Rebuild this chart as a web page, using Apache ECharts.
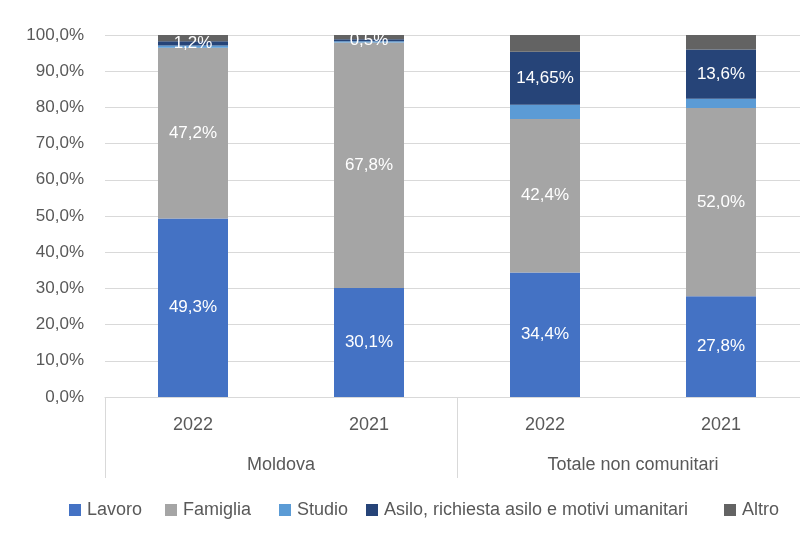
<!DOCTYPE html>
<html>
<head>
<meta charset="utf-8">
<script src="https://cdn.jsdelivr.net/npm/echarts@6/dist/echarts.min.js"></script>
<style>
  html, body { margin: 0; padding: 0; background: #fff; }
  #chart { width: 800px; height: 536px; }
</style>
</head>
<body>
<div id="chart"></div>
<script>
// dati
var years = ['2022', '2021', '2022', '2021'];
var groups = ['Moldova', 'Totale non comunitari'];
var lavoro = [49.3, 30.1, 34.4, 27.8];
var famiglia = [47.2, 67.8, 42.4, 52.0];
var studio = [0.6, 0.4, 3.9, 2.6];
var asilo = [1.2, 0.5, 14.65, 13.6];
var altro = [1.7, 1.2, 4.65, 4.0];
var names = ['Lavoro', 'Famiglia', 'Studio', 'Asilo, richiesta asilo e motivi umanitari', 'Altro'];

var font = 'Liberation Sans';
var textColor = '#595959';

function fmt(v) {
    var parts = String(v).split('.');
    var dec = parts[1] ? Math.max(1, parts[1].length) : 1;
    return v.toFixed(dec).replace('.', ',') + '%';
}

function serie(name, data, color, showLabel) {
    return {
        name: name,
        type: 'bar',
        stack: 'tot',
        barWidth: 70,
        xAxisIndex: 0,
        data: data,
        itemStyle: { color: color },
        label: {
            show: showLabel,
            position: 'inside',
            color: '#fff',
            fontFamily: font,
            fontSize: 17,
            formatter: function (p) { return fmt(p.value); }
        }
    };
}

// legenda: una per voce, come nell'originale le distanze non sono uguali
var legendLeft = [69, 165, 279, 366, 724];
var legends = names.map(function (n, i) {
    return {
        left: legendLeft[i],
        top: 501,
        padding: 0,
        icon: 'rect',
        itemWidth: 12,
        itemHeight: 12,
        itemGap: 0,
        textStyle: { color: textColor, fontSize: 18, fontFamily: font, padding: [0, 0, 0, 1] },
        data: [n]
    };
});

var myChart = echarts.init(document.getElementById('chart'));
myChart.setOption({
    animation: false,
    textStyle: { fontFamily: font },
    grid: { left: 105, top: 35, width: 704, height: 362, outerBoundsMode: 'none' },
    legend: legends,
    xAxis: [{
        type: 'category',
        data: years,
        axisLine: { lineStyle: { color: '#d9d9d9' } },
        axisTick: { show: false },
        axisLabel: { color: textColor, fontSize: 18, margin: 19 }
    }, {
        type: 'category',
        data: groups,
        position: 'bottom',
        axisLine: { show: false },
        axisTick: { show: true, length: 81, interval: 0, lineStyle: { color: '#d9d9d9' } },
        axisLabel: { color: textColor, fontSize: 18, margin: 59 }
    }],
    yAxis: {
        type: 'value',
        min: 0,
        max: 100,
        interval: 10,
        axisLine: { show: false },
        axisTick: { show: false },
        splitLine: { lineStyle: { color: '#d9d9d9' } },
        axisLabel: {
            color: textColor,
            fontSize: 17,
            margin: 21,
            formatter: function (v) { return v.toFixed(1).replace('.', ',') + '%'; }
        }
    },
    series: [
        serie(names[0], lavoro, '#4472C4', true),
        serie(names[1], famiglia, '#A5A5A5', true),
        serie(names[2], studio, '#5B9BD5', false),
        serie(names[3], asilo, '#264478', true),
        serie(names[4], altro, '#636363', false)
    ]
});
</script>
</body>
</html>
